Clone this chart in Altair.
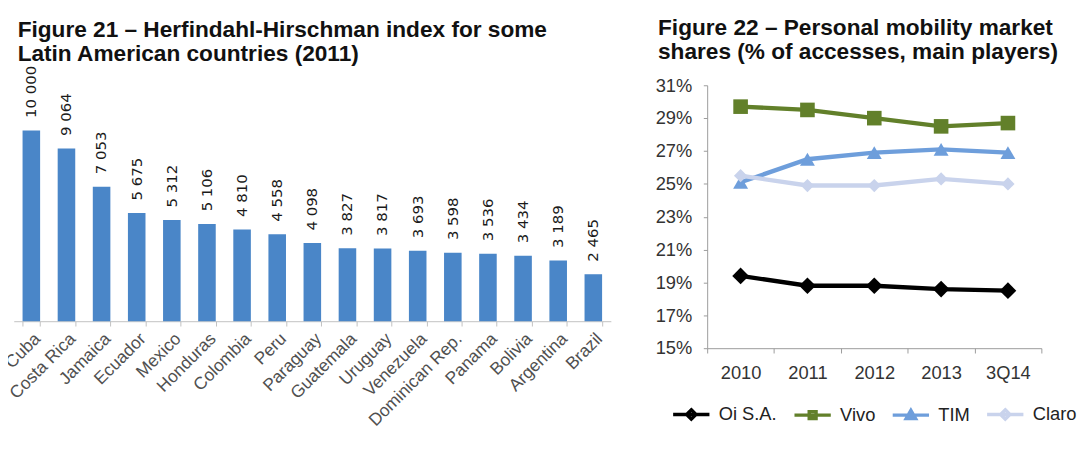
import altair as alt
import pandas as pd

# ---------------- data ----------------
countries = ["Cuba", "Costa Rica", "Jamaica", "Ecuador", "Mexico", "Honduras",
             "Colombia", "Peru", "Paraguay", "Guatemala", "Uruguay", "Venezuela",
             "Dominican Rep.", "Panama", "Bolivia", "Argentina", "Brazil"]
hhi = [10000, 9064, 7053, 5675, 5312, 5106, 4810, 4558, 4098, 3827, 3817,
       3693, 3598, 3536, 3434, 3189, 2465]

periods = ["2010", "2011", "2012", "2013", "3Q14"]
operators = ["Oi S.A.", "Vivo", "TIM", "Claro"]
oi_share = [19.4, 18.8, 18.8, 18.6, 18.5]
vivo_share = [29.7, 29.5, 29.0, 28.5, 28.7]
tim_share = [25.1, 26.5, 26.9, 27.1, 26.9]
claro_share = [25.5, 24.9, 24.9, 25.3, 25.0]
y_ticks = [15, 17, 19, 21, 23, 25, 27, 29, 31]

op_colors = ["#000000", "#62802a", "#6e9edb", "#c9d3ec"]
op_shapes = ["diamond", "square", "triangle-up", "diamond"]
op_sizes = [300, 230, 240, 190]

hhi_df = pd.DataFrame({"country": countries, "hhi": hhi})
share_df = pd.DataFrame({
    "period": periods * 4,
    "operator": [op for op in operators for _ in periods],
    "share": oi_share + vivo_share + tim_share + claro_share,
})

FONT = "Liberation Sans"

# ---------------- left: HHI bars ----------------
x_bar = alt.X(
    "country:N", sort=countries,
    scale=alt.Scale(paddingInner=0.5, paddingOuter=0.25),
    axis=alt.Axis(title=None, labelAngle=-45, labelFont=FONT, labelFontSize=18,
                  labelColor="#505050", labelPadding=4, tickBand="extent",
                  tickSize=5, tickColor="#c0c0c0", domainColor="#c0c0c0",
                  labelOverlap=False),
)
y_bar = alt.Y("hhi:Q", scale=alt.Scale(domain=[0, 12375], nice=False), axis=None)

base_left = alt.Chart(hhi_df).transform_calculate(
    label="replace(format(datum.hhi, ','), ',', ' ')"
)
bars = base_left.mark_bar(color="#4a86c8").encode(x=x_bar, y=y_bar)
bar_labels = base_left.mark_text(
    angle=270, align="left", baseline="middle", dx=13,
    font="DejaVu Sans", fontSize=15.5, color="#1a1a1a"
).encode(x=x_bar, y=y_bar, text="label:N")

left = alt.layer(bars, bar_labels).properties(
    width=620, height=245,
    title=alt.TitleParams(
        ["Figure 21 – Herfindahl-Hirschman index for some",
         "Latin American countries (2011)"],
        anchor="start", frame="group", font=FONT, fontSize=23.5, dx=4,
        fontWeight="bold", lineHeight=25, offset=0, color="#111111"),
)

# ---------------- right: market share lines ----------------
diamond_leg = "M-2.9,0L2.9,0M0,-0.75L0.75,0L0,0.75L-0.75,0Z"
square_leg = "M-2.9,0L2.9,0M-0.55,-0.55L0.55,-0.55L0.55,0.55L-0.55,0.55Z"
tri_leg = "M-2.9,0L2.9,0M0,-0.75L0.75,0.55L-0.75,0.55Z"
shape_expr = ("datum.value === 'Vivo' ? '%s' : datum.value === 'TIM' ? '%s' : '%s'"
              % (square_leg, tri_leg, diamond_leg))

x_line = alt.X(
    "period:N", sort=periods,
    scale=alt.Scale(paddingInner=0, paddingOuter=0),
    axis=alt.Axis(title=None, labelAngle=0, labelFont=FONT, labelFontSize=19,
                  labelColor="#333333", labelPadding=12, tickBand="extent",
                  tickSize=5, tickColor="#999999", domainColor="#999999"),
)
y_line = alt.Y(
    "share:Q", scale=alt.Scale(domain=[15, 31], nice=False, zero=False),
    axis=alt.Axis(title=None, values=y_ticks, labelExpr="datum.value + '%'",
                  labelFont=FONT, labelFontSize=19, labelColor="#333333",
                  labelPadding=12, tickSize=4, tickColor="#999999",
                  domainColor="#999999", grid=False),
)
color_enc = alt.Color(
    "operator:N", sort=operators,
    scale=alt.Scale(domain=operators, range=op_colors),
    legend=alt.Legend(
        title=None, orient="none", direction="horizontal",
        legendX=-26, legendY=332,
        labelFont=FONT, labelFontSize=19, labelColor="#222222",
        symbolSize=169, labelOffset=19, columnPadding=10,
        symbolType={"expr": shape_expr},
        symbolStrokeColor={"expr": "scale('color', datum.value)"},
        symbolFillColor={"expr": "scale('color', datum.value)"},
        symbolStrokeWidth=3.5,
    ),
)

base_right = alt.Chart(share_df)
lines = base_right.mark_line(strokeWidth=4.5).encode(
    x=x_line, y=y_line, color=color_enc, detail="operator:N")

point_layers = [
    base_right.transform_filter(alt.datum.operator == op).mark_point(
        filled=True, opacity=1, shape=shp, size=sz, color=col
    ).encode(x=x_line, y=y_line)
    for op, shp, sz, col in zip(operators, op_shapes, op_sizes, op_colors)
]

right = alt.layer(lines, *point_layers).properties(
    width=347, height=273,
    title=alt.TitleParams(
        ["Figure 22 – Personal mobility market",
         "shares (% of accesses, main players)"],
        anchor="start", frame="bounds", font=FONT, fontSize=23.5, dx=3,
        fontWeight="bold", lineHeight=25, offset=14, color="#111111"),
)

chart = alt.hconcat(left, right, spacing=100, bounds="flush").resolve_scale(
    color="independent"
).properties(
    padding={"left": -7, "top": 0, "right": 0, "bottom": 0},
    background="white",
).configure_view(stroke=None)

chart.save("out.html", embed_options={"renderer": "svg", "actions": False})
